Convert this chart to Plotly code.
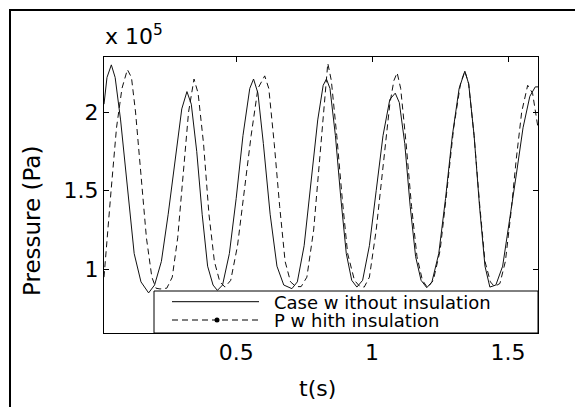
import plotly.graph_objects as go

# time (s) and pressure (x 10^5 Pa)
t_no_ins = [0.014, 0.025, 0.041, 0.055, 0.075, 0.10, 0.125, 0.15, 0.178, 0.20, 0.225, 0.25, 0.275, 0.30,
            0.319, 0.335, 0.355, 0.375, 0.395, 0.415, 0.431, 0.45, 0.475, 0.50, 0.525, 0.55, 0.564, 0.58,
            0.60, 0.625, 0.65, 0.675, 0.705, 0.725, 0.75, 0.775, 0.80, 0.82, 0.832, 0.845, 0.865, 0.885,
            0.905, 0.925, 0.944, 0.965, 0.99, 1.015, 1.04, 1.065, 1.085, 1.10, 1.12, 1.14, 1.16, 1.18,
            1.201, 1.22, 1.245, 1.27, 1.295, 1.32, 1.341, 1.355, 1.375, 1.395, 1.415, 1.433, 1.455, 1.48,
            1.505, 1.53, 1.555, 1.58, 1.60, 1.61]
p_no_ins = [2.05, 2.22, 2.30, 2.22, 1.95, 1.50, 1.10, 0.92, 0.85, 0.90, 1.05, 1.35, 1.70, 2.02,
            2.13, 2.05, 1.75, 1.35, 1.02, 0.90, 0.866, 0.90, 1.10, 1.45, 1.85, 2.15, 2.21, 2.12,
            1.80, 1.35, 1.02, 0.90, 0.877, 0.92, 1.15, 1.55, 1.95, 2.17, 2.21, 2.15, 1.85, 1.45,
            1.10, 0.93, 0.887, 0.93, 1.15, 1.50, 1.85, 2.08, 2.12, 2.06, 1.80, 1.40, 1.08, 0.93,
            0.883, 0.92, 1.10, 1.45, 1.85, 2.15, 2.26, 2.18, 1.85, 1.40, 1.02, 0.887, 0.90, 1.02,
            1.30, 1.60, 1.90, 2.10, 2.16, 2.16]

t_ins = [0.014, 0.025, 0.04, 0.06, 0.08, 0.10, 0.115, 0.13, 0.15, 0.17, 0.19, 0.205, 0.22, 0.245,
         0.265, 0.285, 0.305, 0.325, 0.345, 0.36, 0.38, 0.40, 0.42, 0.44, 0.459, 0.48, 0.505, 0.53,
         0.555, 0.58, 0.605, 0.62, 0.64, 0.66, 0.68, 0.70, 0.72, 0.739, 0.76, 0.785, 0.81, 0.825,
         0.837, 0.85, 0.87, 0.89, 0.91, 0.935, 0.955, 0.971, 0.99, 1.015, 1.04, 1.065, 1.08, 1.092,
         1.105, 1.125, 1.145, 1.165, 1.185, 1.204, 1.225, 1.25, 1.275, 1.30, 1.325, 1.341, 1.355,
         1.375, 1.395, 1.415, 1.435, 1.45, 1.47, 1.49, 1.51, 1.53, 1.55, 1.572, 1.59, 1.61]
p_ins = [0.95, 1.20, 1.50, 1.90, 2.15, 2.27, 2.22, 2.00, 1.60, 1.20, 0.95, 0.88, 0.875, 0.88,
         0.95, 1.20, 1.60, 2.00, 2.21, 2.12, 1.80, 1.35, 1.05, 0.92, 0.887, 0.93, 1.15, 1.50,
         1.85, 2.15, 2.23, 2.15, 1.80, 1.40, 1.05, 0.92, 0.89, 0.89, 0.95, 1.25, 1.75, 2.10,
         2.31, 2.20, 1.85, 1.45, 1.10, 0.93, 0.89, 0.887, 0.95, 1.25, 1.65, 2.05, 2.20, 2.25,
         2.15, 1.80, 1.40, 1.08, 0.93, 0.883, 0.93, 1.12, 1.50, 1.90, 2.18, 2.26, 2.18,
         1.85, 1.42, 1.05, 0.92, 0.89, 0.91, 1.05, 1.35, 1.70, 2.00, 2.17, 2.12, 1.90]

x_ticks = [0.5, 1, 1.5]
x_ticklabels = ["0.5", "1", "1.5"]
y_ticks = [1, 1.5, 2]
y_ticklabels = ["1", "1.5", "2"]

FONT = "DejaVu Sans, Liberation Sans, Arial"

fig = go.Figure()
fig.add_trace(go.Scatter(x=t_no_ins, y=p_no_ins, mode="lines", name="Case w ithout insulation",
                         line=dict(color="#111111", width=1)))
fig.add_trace(go.Scatter(x=t_ins, y=p_ins, mode="lines", name="P w hith insulation",
                         line=dict(color="#111111", width=1, dash="6px,4px")))

# the page body adds an 8 px offset; figure is sized so the window coordinates line up
OFF = 8
W, H = 583 - OFF, 407 - OFF
L, R, T, B = 104 - OFF, 45, 57 - OFF, 74
pw, ph = W - L - R, H - T - B

def px(x):
    return (x - OFF - L) / pw

def py(y):
    return (H - B - (y - OFF)) / ph

axis_common = dict(showline=True, linecolor="black", linewidth=1, mirror="ticks",
                   ticks="inside", ticklen=5, tickcolor="black", showgrid=False, zeroline=False,
                   tickfont=dict(family=FONT, size=22, color="black"))

fig.update_xaxes(range=[0.014, 1.61], tickvals=x_ticks, ticktext=x_ticklabels, **axis_common)
fig.update_yaxes(range=[0.595, 2.35], tickvals=y_ticks, ticktext=y_ticklabels, **axis_common)

shapes = []
# outer figure frame
shapes.append(dict(type="rect", xref="paper", yref="paper", x0=px(10), x1=px(580), y0=py(440), y1=py(10),
                   line=dict(color="black", width=2), layer="above"))
# legend box
shapes.append(dict(type="rect", xref="paper", yref="paper", x0=px(154), x1=1, y0=0, y1=py(291),
                   fillcolor="white", line=dict(color="black", width=1), layer="above"))
shapes.append(dict(type="line", xref="paper", yref="paper", x0=px(172), x1=px(259), y0=py(301.7), y1=py(301.7),
                   line=dict(color="black", width=1), layer="above"))
shapes.append(dict(type="line", xref="paper", yref="paper", x0=px(172), x1=px(259), y0=py(320), y1=py(320),
                   line=dict(color="black", width=1, dash="6px,4px"), layer="above"))
shapes.append(dict(type="circle", xref="paper", yref="paper", x0=px(214.5), x1=px(219.5), y0=py(322.5), y1=py(317.5),
                   fillcolor="black", line=dict(color="black", width=0), layer="above"))

annotations = [
    dict(text="Case w ithout insulation", x=px(272), y=py(302), xref="paper", yref="paper",
         xanchor="left", yanchor="middle", showarrow=False, font=dict(family=FONT, size=18, color="black")),
    dict(text="P w hith insulation", x=px(272), y=py(320), xref="paper", yref="paper",
         xanchor="left", yanchor="middle", showarrow=False, font=dict(family=FONT, size=18, color="black")),
    dict(text="x 10<sup>5</sup>", x=px(103), y=py(35), xref="paper", yref="paper",
         xanchor="left", yanchor="middle", showarrow=False, font=dict(family=FONT, size=22, color="black")),
    dict(text="Pressure (Pa)", x=px(32), y=py(221), xref="paper", yref="paper", textangle=-90,
         xanchor="center", yanchor="middle", showarrow=False, font=dict(family=FONT, size=23, color="black")),
    dict(text="t(s)", x=px(317), y=py(388), xref="paper", yref="paper",
         xanchor="center", yanchor="middle", showarrow=False, font=dict(family=FONT, size=22, color="black")),
]

fig.update_layout(width=W, height=H, margin=dict(l=L, r=R, t=T, b=B),
                  paper_bgcolor="white", plot_bgcolor="white", showlegend=False,
                  shapes=shapes, annotations=annotations)

fig.write_html("out.html")
